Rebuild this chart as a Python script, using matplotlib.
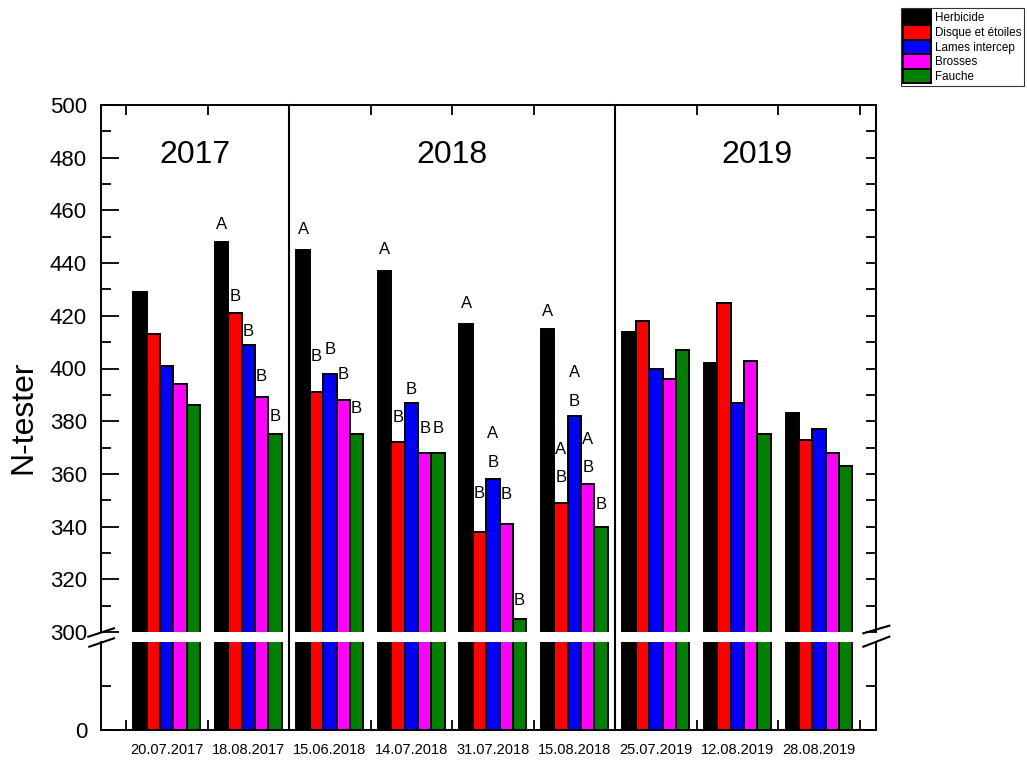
import matplotlib
matplotlib.use("Agg")
import matplotlib.pyplot as plt
from matplotlib.lines import Line2D
from matplotlib import transforms
import numpy as np

plt.rcParams['font.family'] = ['Liberation Sans', 'DejaVu Sans']

# ---------------- data ----------------
dates = ["20.07.2017", "18.08.2017", "15.06.2018", "14.07.2018", "31.07.2018",
         "15.08.2018", "25.07.2019", "12.08.2019", "28.08.2019"]
series_names = ["Herbicide", "Disque et étoiles", "Lames intercep", "Brosses", "Fauche"]
herbicide = [429, 448, 445, 437, 417, 415, 414, 402, 383]
disque = [413, 421, 391, 372, 338, 349, 418, 425, 373]
lames = [401, 409, 398, 387, 358, 382, 400, 387, 377]
brosses = [394, 389, 388, 368, 341, 356, 396, 403, 368]
fauche = [386, 375, 375, 368, 305, 340, 407, 375, 363]
colors = ["#000000", "#ff0000", "#0000ff", "#ff00ff", "#008000"]

years = ["2017", "2018", "2019"]
year_x = [0.35, 3.5, 7.24]

# significance letters: (group index, series index, text, y value)
letters = [
    (1, 0, "A", 454.8), (1, 1, "B", 427.5), (1, 2, "B", 414.2), (1, 3, "B", 396.8), (1, 4, "B", 381.6),
    (2, 0, "A", 452.6), (2, 1, "B", 404.5), (2, 2, "B", 407.4), (2, 3, "B", 397.9), (2, 4, "B", 385.0),
    (3, 0, "A", 445.0), (3, 1, "B", 381.5), (3, 2, "B", 392.2), (3, 3, "B", 377.3), (3, 4, "B", 377.3),
    (4, 0, "A", 424.7), (4, 1, "B", 352.6), (4, 2, "A", 375.4), (4, 2, "B", 364.3), (4, 3, "B", 352.3),
    (4, 4, "B", 312.1),
    (5, 0, "A", 421.8), (5, 1, "A", 369.3), (5, 1, "B", 358.7), (5, 2, "A", 398.4), (5, 2, "B", 387.4),
    (5, 3, "A", 373.2), (5, 3, "B", 362.4), (5, 4, "B", 348.5),
]

series = [herbicide, disque, lames, brosses, fauche]

# ---------------- layout ----------------
FW, FH = 1027, 760
fig = plt.figure(figsize=(FW / 100, FH / 100), dpi=100)
fig.patch.set_facecolor("white")

L = 101 / FW
R = 876 / FW
ax_up = fig.add_axes([L, 1 - 632 / FH, R - L, (632 - 105) / FH])
ax_lo = fig.add_axes([L, 1 - 730 / FH, R - L, (730 - 642) / FH])

x = np.arange(len(dates))
bw = 0.164
for ax in (ax_up, ax_lo):
    for k, (vals, col) in enumerate(zip(series, colors)):
        ax.bar(x + (k - 2) * bw, vals, width=bw, color=col, edgecolor="black",
               linewidth=1.4, label=series_names[k], zorder=2)
    ax.set_xlim(-0.807, 8.70)
    ax.set_facecolor("white")
    for s in ax.spines.values():
        s.set_linewidth(1.4)

ax_up.set_ylim(300, 500)
ax_lo.set_ylim(0, 200)

ax_up.spines['bottom'].set_visible(False)
ax_lo.spines['top'].set_visible(False)

# y ticks
ax_up.set_yticks(np.arange(300, 501, 20))
ax_up.set_yticks(np.arange(310, 500, 20), minor=True)
ax_lo.set_yticks([0])
ax_lo.set_yticks([100], minor=True)
for ax in (ax_up, ax_lo):
    ax.tick_params(axis='y', which='major', direction='in', length=13, width=1.3,
                   labelsize=16, pad=10, left=True, right=False)
    ax.tick_params(axis='y', which='minor', direction='in', length=7, width=1.3,
                   left=True, right=False)
    sec = ax.secondary_yaxis('right')
    sec.set_yticks(list(ax.get_yticks()) + list(ax.get_yticks(minor=True)))
    sec.tick_params(axis='y', direction='in', length=7, width=1.3, labelright=False)
    sec.spines['right'].set_linewidth(1.4)

# x ticks: labels at centres, tick marks at boundaries
bounds = np.arange(-0.5, len(dates), 1.0)
ax_lo.set_xticks(x)
ax_lo.set_xticklabels(dates)
ax_lo.set_xticks(bounds, minor=True)
ax_lo.tick_params(axis='x', which='major', length=0, labelsize=10.5, pad=9.5)
ax_lo.tick_params(axis='x', which='minor', direction='in', length=7, width=1.3,
                  bottom=True, top=False)
ax_up.set_xticks([])
ax_up.set_xticks(bounds, minor=True)
ax_up.tick_params(axis='x', which='minor', direction='in', length=7, width=1.3,
                  bottom=False, top=True, labelbottom=False)

# year separators spanning both panels
blend = transforms.blended_transform_factory(ax_up.transData, fig.transFigure)
for xs in (1.5, 5.5):
    fig.add_artist(Line2D([xs, xs], [1 - 730 / FH, 1 - 105 / FH], transform=blend,
                          color="black", linewidth=1.5, zorder=5))

# year labels
for yr, xp in zip(years, year_x):
    ax_up.text(xp, 481, yr, fontsize=23, ha="center", va="center")

# letters
for g, s, t, yv in letters:
    ax_up.text(x[g] + (s - 2) * bw, yv, t, fontsize=12, ha="center", va="center", zorder=4)

# break marks
def fline(x0, y0, x1, y1):
    fig.add_artist(Line2D([x0 / FW, x1 / FW], [1 - y0 / FH, 1 - y1 / FH],
                          transform=fig.transFigure, color="black", linewidth=1.5, zorder=6))

fline(88.3, 636.7, 114, 628.3)
fline(89.3, 646.7, 114, 638.3)
fline(863.3, 633.3, 889.3, 625.7)
fline(863.3, 646.7, 889.3, 636.7)

# y label
fig.text(23 / FW, 1 - 417 / FH, "N-tester", rotation=90, fontsize=23,
         ha="center", va="center")

# legend
handles, labels = ax_up.get_legend_handles_labels()
leg = fig.legend(handles, labels, loc="upper right", bbox_to_anchor=(1024 / FW, 1 - 8 / FH),
                 fontsize=8.4, frameon=True, fancybox=False, edgecolor="black",
                 handlelength=2.4, handleheight=1.55, labelspacing=0.0,
                 handletextpad=0.35, borderpad=0.2, borderaxespad=0.0)
leg.get_frame().set_linewidth(0.8)

fig.savefig("out.png", dpi=100, facecolor="white")
